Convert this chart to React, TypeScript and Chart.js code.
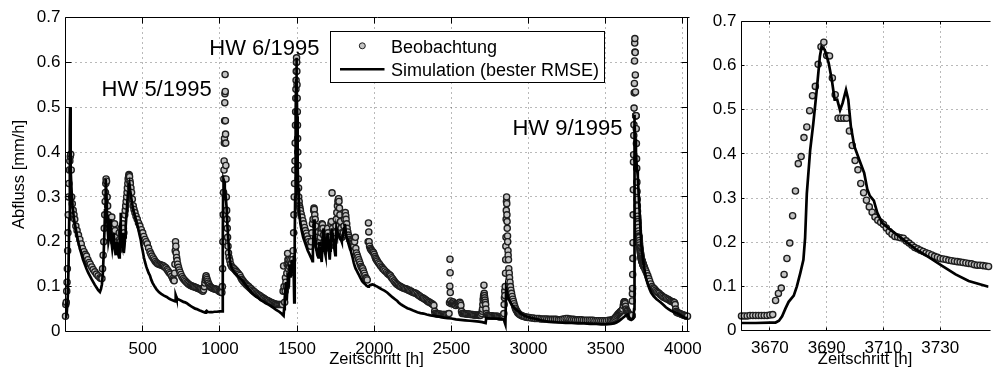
import React, { useEffect, useRef } from "react";
import { Chart, registerables } from "chart.js";
Chart.register(...registerables);

const FONT = "'Liberation Sans', Arial, Helvetica, sans-serif";

// ---------- Tick labels ----------
const mainXTicks = [500, 1000, 1500, 2000, 2500, 3000, 3500, 4000];
const zoomXTicks = [3670, 3690, 3710, 3730];
const yTicks = [0, 0.1, 0.2, 0.3, 0.4, 0.5, 0.6, 0.7];

// ---------- Observations (main panel, outside the zoom window) ----------
const obsHours = [
  0, 2, 5, 8, 10, 12, 14, 16, 18, 20, 22, 25, 28, 31, 34, 37, 40, 44, 50, 55, 60, 67, 75, 84, 93, 102, 110, 120, 128, 136,
  145, 153, 160, 170, 179, 190, 200, 211, 223, 230, 236, 240, 244, 248, 251, 254, 257, 259, 261, 263, 266, 270, 273, 276, 282, 288, 292, 295, 300, 303,
  306, 312, 318, 321, 324, 330, 336, 342, 348, 351, 354, 360, 363, 366, 372, 375, 378, 384, 387, 390, 393, 396, 399, 401, 404, 406, 409, 411, 413, 415,
  418, 420, 424, 428, 433, 439, 444, 450, 457, 465, 473, 482, 491, 500, 507, 515, 522, 530, 538, 547, 553, 560, 568, 575, 582, 590, 597, 605, 612, 620,
  628, 635, 642, 650, 658, 665, 672, 680, 688, 695, 700, 704, 707, 709, 711, 713, 715, 717, 720, 723, 727, 732, 737, 742, 748, 755, 762, 770, 778, 786,
  793, 800, 808, 815, 822, 829, 837, 845, 852, 860, 868, 875, 882, 890, 895, 900, 903, 906, 909, 911, 914, 917, 921, 925, 931, 937, 943, 950, 957, 965,
  972, 980, 987, 995, 1000, 1005, 1010, 1013, 1016, 1018, 1020, 1022, 1024, 1026, 1027, 1028, 1029, 1030, 1031, 1032, 1033, 1034, 1035, 1036, 1037, 1038, 1039, 1040, 1042, 1044,
  1046, 1048, 1050, 1053, 1056, 1060, 1065, 1070, 1077, 1085, 1092, 1100, 1107, 1115, 1122, 1130, 1137, 1143, 1150, 1157, 1165, 1172, 1180, 1187, 1195, 1203, 1210, 1218, 1225, 1233,
  1240, 1248, 1255, 1263, 1270, 1278, 1285, 1293, 1300, 1308, 1315, 1323, 1330, 1338, 1345, 1353, 1360, 1368, 1375, 1383, 1390, 1398, 1405, 1410, 1413, 1416, 1420, 1423, 1425, 1428,
  1431, 1434, 1436, 1439, 1441, 1443, 1446, 1448, 1451, 1455, 1458, 1460, 1464, 1468, 1472, 1475, 1478, 1480, 1482, 1484, 1486, 1487, 1488, 1490, 1491, 1492, 1493, 1494, 1495, 1496,
  1497, 1498, 1499, 1500, 1501, 1502, 1503, 1504, 1505, 1507, 1508, 1510, 1511, 1514, 1516, 1519, 1522, 1527, 1532, 1538, 1543, 1549, 1554, 1560, 1565, 1571, 1576, 1582, 1588, 1592,
  1596, 1600, 1604, 1608, 1610, 1612, 1615, 1618, 1621, 1625, 1628, 1632, 1636, 1640, 1644, 1648, 1651, 1655, 1658, 1662, 1665, 1668, 1671, 1675, 1678, 1682, 1686, 1690, 1694, 1698,
  1701, 1705, 1708, 1712, 1716, 1720, 1723, 1727, 1730, 1733, 1736, 1740, 1744, 1748, 1752, 1755, 1758, 1762, 1765, 1768, 1770, 1772, 1775, 1778, 1782, 1785, 1789, 1792, 1796, 1800,
  1804, 1808, 1811, 1813, 1816, 1818, 1822, 1825, 1829, 1833, 1838, 1842, 1847, 1851, 1856, 1860, 1864, 1868, 1873, 1878, 1881, 1885, 1890, 1895, 1900, 1905, 1910, 1915, 1920, 1925,
  1930, 1935, 1940, 1945, 1950, 1955, 1961, 1963, 1965, 1967, 1970, 1975, 1980, 1985, 1990, 1995, 2000, 2005, 2010, 2015, 2020, 2027, 2035, 2042, 2050, 2056, 2062, 2070, 2080, 2088,
  2095, 2100, 2106, 2113, 2120, 2128, 2135, 2142, 2149, 2157, 2165, 2172, 2180, 2188, 2197, 2205, 2214, 2222, 2230, 2238, 2246, 2254, 2262, 2270, 2279, 2287, 2295, 2303, 2312, 2320,
  2328, 2336, 2344, 2352, 2360, 2368, 2375, 2381, 2387, 2392, 2395, 2403, 2410, 2418, 2425, 2433, 2440, 2448, 2455, 2463, 2470, 2478, 2485, 2488, 2490, 2491, 2492, 2493, 2495, 2500,
  2505, 2510, 2515, 2520, 2525, 2530, 2538, 2545, 2550, 2555, 2559, 2562, 2566, 2570, 2578, 2585, 2593, 2600, 2608, 2615, 2623, 2630, 2638, 2645, 2653, 2660, 2668, 2675, 2683, 2690,
  2696, 2700, 2702, 2704, 2706, 2708, 2709, 2711, 2713, 2714, 2716, 2718, 2720, 2722, 2724, 2727, 2733, 2740, 2748, 2755, 2763, 2770, 2778, 2785, 2793, 2800, 2808, 2815, 2823, 2830,
  2836, 2840, 2842, 2844, 2846, 2847, 2849, 2851, 2852, 2853, 2854, 2855, 2856, 2857, 2858, 2859, 2860, 2861, 2862, 2864, 2865, 2867, 2868, 2870, 2872, 2875, 2877, 2880, 2883, 2886,
  2890, 2894, 2898, 2902, 2906, 2910, 2915, 2920, 2925, 2930, 2935, 2942, 2950, 2958, 2965, 2975, 2985, 2995, 3005, 3018, 3030, 3042, 3055, 3068, 3080, 3093, 3105, 3118, 3130, 3143,
  3155, 3168, 3180, 3193, 3205, 3218, 3230, 3243, 3255, 3268, 3280, 3293, 3305, 3318, 3330, 3343, 3355, 3368, 3380, 3393, 3405, 3418, 3430, 3443, 3455, 3468, 3480, 3493, 3505, 3518,
  3530, 3540, 3550, 3558, 3565, 3572, 3578, 3584, 3590, 3595, 3600, 3605, 3610, 3614, 3618, 3620, 3622, 3624, 3626, 3629, 3632, 3636, 3640, 3644, 3648, 3652, 3656,
  3750, 3755, 3760, 3766, 3773, 3779, 3785, 3792, 3800, 3808, 3815, 3823, 3830, 3838, 3846, 3855, 3862, 3870, 3877, 3885, 3894, 3903, 3911, 3920, 3927, 3935, 3941, 3946, 3950, 3953,
  3956, 3960, 3965, 3972, 3980, 3987, 3995, 4002, 4010, 4017, 4024, 4030,
];
const obsFlow = [
  0.034, 0.06, 0.065, 0.09, 0.11, 0.14, 0.18, 0.22, 0.26, 0.3, 0.33, 0.36, 0.38, 0.39, 0.395, 0.36, 0.3, 0.285, 0.27, 0.26, 0.25, 0.235, 0.225, 0.215, 0.205, 0.195, 0.185, 0.178, 0.172, 0.168,
  0.16, 0.154, 0.15, 0.144, 0.138, 0.133, 0.128, 0.124, 0.12, 0.118, 0.118, 0.14, 0.17, 0.2, 0.23, 0.26, 0.29, 0.31, 0.33, 0.34, 0.335, 0.3, 0.28, 0.26, 0.23, 0.25, 0.235, 0.24, 0.255, 0.235,
  0.22, 0.2, 0.24, 0.225, 0.21, 0.19, 0.2, 0.18, 0.22, 0.205, 0.2, 0.23, 0.22, 0.21, 0.24, 0.23, 0.22, 0.26, 0.27, 0.28, 0.29, 0.3, 0.31, 0.32, 0.33, 0.34, 0.345, 0.35, 0.348, 0.345,
  0.335, 0.33, 0.32, 0.31, 0.295, 0.28, 0.272, 0.265, 0.257, 0.25, 0.242, 0.235, 0.227, 0.22, 0.212, 0.205, 0.2, 0.195, 0.186, 0.178, 0.173, 0.168, 0.164, 0.16, 0.156, 0.153, 0.151, 0.15, 0.149, 0.148,
  0.147, 0.146, 0.144, 0.142, 0.138, 0.135, 0.131, 0.128, 0.123, 0.118, 0.115, 0.113, 0.13, 0.15, 0.18, 0.2, 0.19, 0.175, 0.165, 0.158, 0.15, 0.143, 0.137, 0.132, 0.127, 0.122, 0.118, 0.115, 0.112, 0.109,
  0.107, 0.105, 0.103, 0.102, 0.101, 0.1, 0.099, 0.098, 0.097, 0.096, 0.095, 0.094, 0.092, 0.09, 0.093, 0.1, 0.108, 0.115, 0.12, 0.124, 0.12, 0.116, 0.112, 0.108, 0.104, 0.1, 0.098, 0.097, 0.096, 0.095,
  0.094, 0.094, 0.092, 0.09, 0.089, 0.088, 0.087, 0.087, 0.1, 0.14, 0.2, 0.26, 0.31, 0.34, 0.36, 0.38, 0.42, 0.43, 0.47, 0.51, 0.53, 0.573, 0.535, 0.47, 0.44, 0.42, 0.37, 0.34, 0.3, 0.27,
  0.25, 0.23, 0.21, 0.19, 0.175, 0.165, 0.158, 0.15, 0.145, 0.142, 0.14, 0.137, 0.134, 0.131, 0.128, 0.125, 0.12, 0.116, 0.113, 0.11, 0.107, 0.104, 0.102, 0.1, 0.097, 0.095, 0.092, 0.09, 0.088, 0.086,
  0.084, 0.082, 0.081, 0.079, 0.077, 0.075, 0.074, 0.072, 0.07, 0.069, 0.068, 0.066, 0.065, 0.064, 0.063, 0.062, 0.061, 0.06, 0.06, 0.06, 0.06, 0.06, 0.06, 0.09, 0.146, 0.1, 0.065, 0.09, 0.12, 0.11,
  0.1, 0.13, 0.15, 0.174, 0.16, 0.14, 0.15, 0.16, 0.145, 0.13, 0.15, 0.16, 0.15, 0.14, 0.16, 0.18, 0.22, 0.26, 0.3, 0.33, 0.36, 0.38, 0.42, 0.46, 0.49, 0.52, 0.54, 0.56, 0.58, 0.6,
  0.61, 0.6, 0.58, 0.55, 0.52, 0.49, 0.46, 0.43, 0.4, 0.37, 0.34, 0.32, 0.3, 0.29, 0.28, 0.275, 0.27, 0.262, 0.255, 0.247, 0.24, 0.232, 0.225, 0.219, 0.213, 0.206, 0.2, 0.195, 0.19, 0.2,
  0.22, 0.24, 0.25, 0.27, 0.275, 0.272, 0.26, 0.25, 0.235, 0.22, 0.21, 0.2, 0.19, 0.185, 0.19, 0.2, 0.21, 0.22, 0.23, 0.24, 0.238, 0.23, 0.215, 0.2, 0.19, 0.185, 0.195, 0.21, 0.22, 0.23,
  0.22, 0.21, 0.2, 0.19, 0.21, 0.24, 0.245, 0.309, 0.23, 0.22, 0.21, 0.2, 0.21, 0.22, 0.235, 0.25, 0.265, 0.28, 0.29, 0.295, 0.296, 0.29, 0.275, 0.26, 0.245, 0.23, 0.22, 0.21, 0.215, 0.22,
  0.235, 0.25, 0.26, 0.265, 0.258, 0.25, 0.24, 0.23, 0.222, 0.215, 0.21, 0.205, 0.202, 0.2, 0.197, 0.195, 0.192, 0.19, 0.2, 0.21, 0.185, 0.175, 0.17, 0.165, 0.16, 0.155, 0.15, 0.145, 0.142, 0.14,
  0.135, 0.13, 0.125, 0.12, 0.118, 0.115, 0.2, 0.242, 0.222, 0.2, 0.19, 0.185, 0.182, 0.18, 0.178, 0.176, 0.172, 0.167, 0.163, 0.16, 0.157, 0.153, 0.15, 0.146, 0.143, 0.14, 0.138, 0.135, 0.132, 0.129,
  0.127, 0.126, 0.124, 0.12, 0.117, 0.113, 0.11, 0.107, 0.105, 0.103, 0.101, 0.1, 0.098, 0.097, 0.096, 0.095, 0.094, 0.092, 0.091, 0.09, 0.088, 0.087, 0.086, 0.085, 0.083, 0.081, 0.079, 0.077, 0.075, 0.074,
  0.072, 0.07, 0.068, 0.066, 0.065, 0.063, 0.062, 0.06, 0.058, 0.045, 0.04, 0.04, 0.039, 0.039, 0.039, 0.038, 0.038, 0.038, 0.038, 0.038, 0.038, 0.039, 0.04, 0.064, 0.101, 0.161, 0.131, 0.087, 0.068, 0.062,
  0.064, 0.066, 0.063, 0.06, 0.059, 0.058, 0.06, 0.062, 0.064, 0.065, 0.062, 0.058, 0.045, 0.04, 0.04, 0.04, 0.039, 0.039, 0.039, 0.039, 0.038, 0.038, 0.038, 0.037, 0.037, 0.037, 0.037, 0.036, 0.036, 0.036,
  0.04, 0.045, 0.05, 0.06, 0.07, 0.075, 0.08, 0.103, 0.085, 0.08, 0.075, 0.07, 0.065, 0.06, 0.05, 0.04, 0.036, 0.035, 0.035, 0.035, 0.035, 0.034, 0.034, 0.034, 0.034, 0.034, 0.033, 0.033, 0.033, 0.033,
  0.036, 0.04, 0.06, 0.075, 0.09, 0.08, 0.1, 0.13, 0.16, 0.19, 0.21, 0.25, 0.27, 0.29, 0.3, 0.285, 0.26, 0.245, 0.23, 0.213, 0.2, 0.18, 0.17, 0.16, 0.14, 0.13, 0.12, 0.11, 0.1, 0.092,
  0.085, 0.078, 0.072, 0.067, 0.062, 0.057, 0.052, 0.048, 0.045, 0.042, 0.04, 0.038, 0.036, 0.035, 0.034, 0.033, 0.032, 0.031, 0.031, 0.03, 0.03, 0.029, 0.029, 0.029, 0.028, 0.028, 0.028, 0.028, 0.027, 0.027,
  0.027, 0.027, 0.027, 0.026, 0.026, 0.027, 0.028, 0.029, 0.029, 0.028, 0.027, 0.027, 0.026, 0.026, 0.026, 0.026, 0.025, 0.025, 0.025, 0.025, 0.025, 0.025, 0.024, 0.024, 0.024, 0.024, 0.024, 0.024, 0.024, 0.025,
  0.025, 0.026, 0.027, 0.029, 0.032, 0.035, 0.038, 0.04, 0.042, 0.044, 0.045, 0.047, 0.05, 0.058, 0.064, 0.066, 0.066, 0.064, 0.062, 0.056, 0.05, 0.047, 0.045, 0.042, 0.04, 0.038, 0.036,
  0.143, 0.139, 0.135, 0.13, 0.124, 0.118, 0.112, 0.106, 0.1, 0.097, 0.095, 0.092, 0.089, 0.087, 0.085, 0.082, 0.08, 0.078, 0.076, 0.075, 0.073, 0.072, 0.07, 0.068, 0.067, 0.066, 0.065, 0.064, 0.06, 0.05,
  0.045, 0.043, 0.042, 0.041, 0.04, 0.039, 0.038, 0.037, 0.036, 0.035, 0.034, 0.034,
];

// ---------- Observations, hourly, in the zoom window (first hour 3660) ----------
const zoomStartHour = 3660;
const zoomObsFlow = [
  0.033, 0.033, 0.033, 0.034, 0.034, 0.034, 0.034, 0.034, 0.034, 0.034, 0.035, 0.036,
  0.068, 0.084, 0.096, 0.127, 0.163, 0.198, 0.26, 0.316, 0.378, 0.394,
  0.437, 0.461, 0.498, 0.532, 0.553, 0.603, 0.643, 0.653, 0.623, 0.622,
  0.572, 0.534, 0.481, 0.481, 0.481, 0.481, 0.452, 0.419, 0.385, 0.364,
  0.333, 0.312, 0.295, 0.28, 0.268, 0.257, 0.25, 0.245, 0.24, 0.232,
  0.224, 0.218, 0.213, 0.212, 0.21, 0.209, 0.203, 0.198, 0.193, 0.188,
  0.185, 0.182, 0.179, 0.176, 0.174, 0.171, 0.168, 0.166, 0.163, 0.162,
  0.161, 0.159, 0.158, 0.157, 0.156, 0.155, 0.154, 0.153, 0.152, 0.151,
  0.149, 0.148, 0.148, 0.147, 0.146, 0.145,
];

// ---------- Simulation (main panel) ----------
const simHours = [
  0, 8, 15, 20, 24, 27, 29, 30, 32, 35, 40, 46, 55, 63, 71, 82, 93, 104, 114, 125, 136, 147, 158, 170, 180, 190, 201, 212, 223, 230,
  236, 242, 247, 252, 256, 259, 262, 265, 269, 273, 278, 283, 287, 291, 294, 298, 303, 308, 312, 316, 320, 325, 329, 333, 338, 343, 347, 350, 353, 355,
  357, 359, 362, 366, 370, 373, 376, 379, 382, 386, 390, 395, 400, 405, 410, 414, 419, 425, 432, 440, 448, 456, 464, 472, 480, 487, 494, 500, 508, 515,
  523, 530, 539, 547, 556, 565, 578, 590, 605, 620, 638, 656, 673, 690, 705, 712, 714, 717, 720, 730, 742, 753, 764, 775, 786, 798, 810, 820, 830, 840,
  851, 863, 875, 890, 905, 910, 914, 920, 935, 950, 965, 980, 1000, 1017, 1019, 1021, 1024, 1028, 1032, 1038, 1045, 1050, 1056, 1062, 1067, 1073, 1080, 1090, 1099, 1110,
  1120, 1132, 1143, 1155, 1165, 1176, 1186, 1198, 1210, 1220, 1230, 1240, 1251, 1265, 1280, 1298, 1316, 1333, 1350, 1365, 1381, 1392, 1400, 1407, 1413, 1416, 1419, 1422, 1426, 1429,
  1432, 1435, 1438, 1440, 1444, 1447, 1450, 1452, 1455, 1458, 1462, 1465, 1469, 1472, 1475, 1478, 1480, 1482, 1484, 1486, 1488, 1490, 1492, 1494, 1496, 1497, 1499, 1501, 1503, 1505,
  1508, 1512, 1516, 1522, 1530, 1540, 1550, 1560, 1570, 1580, 1590, 1597, 1600, 1603, 1606, 1609, 1611, 1614, 1618, 1622, 1627, 1632, 1638, 1642, 1645, 1648, 1652, 1656, 1660, 1663,
  1666, 1669, 1672, 1675, 1678, 1682, 1685, 1689, 1692, 1695, 1698, 1701, 1705, 1709, 1712, 1715, 1718, 1722, 1725, 1729, 1732, 1736, 1740, 1744, 1748, 1751, 1755, 1758, 1762, 1766,
  1770, 1775, 1780, 1785, 1790, 1795, 1800, 1805, 1810, 1814, 1818, 1824, 1830, 1838, 1845, 1852, 1860, 1868, 1874, 1880, 1888, 1895, 1903, 1910, 1916, 1922, 1930, 1940, 1948, 1955,
  1960, 1965, 1972, 1980, 1988, 1997, 2008, 2020, 2035, 2050, 2066, 2084, 2100, 2120, 2135, 2150, 2160, 2171, 2185, 2200, 2215, 2230, 2245, 2257, 2280, 2300, 2320, 2340, 2365, 2387,
  2420, 2450, 2475, 2500, 2530, 2560, 2590, 2620, 2650, 2680, 2700, 2722, 2726, 2750, 2780, 2810, 2840, 2846, 2850, 2853, 2855, 2860, 2866, 2875, 2885, 2895, 2905, 2915, 2925, 2935,
  2948, 2960, 2975, 2990, 3010, 3036, 3060, 3080, 3105, 3130, 3165, 3200, 3240, 3280, 3320, 3360, 3400, 3440, 3470, 3500, 3534, 3555, 3570, 3585, 3599, 3610, 3620, 3632, 3643, 3650,
  3656, 3665, 3675, 3680, 3684, 3685, 3686, 3687, 3689, 3692, 3696, 3700, 3704, 3708, 3713, 3719, 3725, 3730, 3740, 3751, 3762, 3773, 3784, 3794, 3810, 3830, 3845, 3859, 3875, 3890,
  3907, 3924, 3945, 3967, 3990, 4010, 4030,
];
const simFlow = [
  0.03, 0.04, 0.08, 0.15, 0.25, 0.35, 0.45, 0.5, 0.42, 0.36, 0.31, 0.28, 0.25, 0.235, 0.22, 0.2, 0.185, 0.172, 0.16, 0.15, 0.14, 0.131, 0.124, 0.116, 0.11, 0.104, 0.098, 0.092, 0.088, 0.095,
  0.105, 0.13, 0.17, 0.22, 0.27, 0.31, 0.34, 0.31, 0.26, 0.23, 0.2, 0.21, 0.23, 0.25, 0.22, 0.2, 0.185, 0.2, 0.22, 0.2, 0.185, 0.17, 0.19, 0.2, 0.185, 0.17, 0.165, 0.18, 0.2, 0.24,
  0.265, 0.22, 0.195, 0.19, 0.21, 0.22, 0.19, 0.175, 0.19, 0.21, 0.235, 0.26, 0.285, 0.31, 0.325, 0.33, 0.315, 0.3, 0.285, 0.27, 0.26, 0.25, 0.24, 0.228, 0.215, 0.205, 0.19, 0.18, 0.165, 0.155,
  0.145, 0.138, 0.13, 0.125, 0.115, 0.108, 0.1, 0.094, 0.088, 0.084, 0.08, 0.077, 0.073, 0.07, 0.068, 0.067, 0.081, 0.078, 0.074, 0.072, 0.07, 0.068, 0.066, 0.065, 0.063, 0.06, 0.057, 0.055, 0.053, 0.051,
  0.05, 0.048, 0.046, 0.044, 0.042, 0.045, 0.046, 0.044, 0.043, 0.043, 0.044, 0.044, 0.045, 0.045, 0.2, 0.3, 0.339, 0.335, 0.32, 0.3, 0.272, 0.23, 0.198, 0.17, 0.155, 0.145, 0.14, 0.134, 0.13, 0.126,
  0.122, 0.118, 0.115, 0.11, 0.105, 0.1, 0.095, 0.09, 0.085, 0.082, 0.079, 0.077, 0.074, 0.07, 0.067, 0.063, 0.06, 0.056, 0.052, 0.048, 0.045, 0.042, 0.04, 0.037, 0.035, 0.05, 0.065, 0.075, 0.1, 0.11,
  0.08, 0.07, 0.1, 0.13, 0.115, 0.1, 0.13, 0.15, 0.135, 0.12, 0.14, 0.16, 0.15, 0.14, 0.16, 0.17, 0.12, 0.065, 0.1, 0.2, 0.3, 0.4, 0.48, 0.56, 0.6, 0.61, 0.56, 0.48, 0.42, 0.37,
  0.32, 0.28, 0.26, 0.24, 0.225, 0.21, 0.2, 0.19, 0.18, 0.173, 0.165, 0.16, 0.157, 0.18, 0.21, 0.24, 0.25, 0.23, 0.205, 0.19, 0.18, 0.17, 0.165, 0.18, 0.2, 0.19, 0.175, 0.165, 0.155, 0.18,
  0.21, 0.225, 0.23, 0.21, 0.19, 0.175, 0.17, 0.19, 0.2, 0.21, 0.22, 0.205, 0.185, 0.17, 0.16, 0.18, 0.2, 0.22, 0.23, 0.22, 0.21, 0.2, 0.19, 0.18, 0.17, 0.2, 0.23, 0.225, 0.22, 0.218,
  0.215, 0.212, 0.21, 0.205, 0.2, 0.21, 0.22, 0.23, 0.24, 0.23, 0.215, 0.207, 0.2, 0.192, 0.185, 0.175, 0.165, 0.153, 0.146, 0.14, 0.135, 0.13, 0.125, 0.12, 0.116, 0.112, 0.109, 0.106, 0.103, 0.101,
  0.1, 0.101, 0.103, 0.104, 0.105, 0.104, 0.102, 0.1, 0.097, 0.094, 0.091, 0.087, 0.082, 0.076, 0.072, 0.068, 0.064, 0.061, 0.058, 0.055, 0.052, 0.05, 0.048, 0.046, 0.043, 0.041, 0.04, 0.038, 0.036, 0.035,
  0.033, 0.031, 0.03, 0.029, 0.027, 0.026, 0.025, 0.024, 0.023, 0.022, 0.021, 0.019, 0.03, 0.029, 0.029, 0.028, 0.027, 0.02, 0.016, 0.016, 0.094, 0.085, 0.078, 0.07, 0.063, 0.058, 0.054, 0.05, 0.047, 0.045,
  0.041, 0.038, 0.035, 0.033, 0.031, 0.029, 0.027, 0.025, 0.023, 0.022, 0.021, 0.02, 0.019, 0.019, 0.018, 0.018, 0.017, 0.017, 0.016, 0.016, 0.017, 0.018, 0.02, 0.023, 0.027, 0.03, 0.033, 0.036, 0.038, 0.033,
  0.028, 0.026, 0.028, 0.032, 0.05, 0.2, 0.4, 0.483, 0.46, 0.43, 0.4, 0.375, 0.36, 0.346, 0.31, 0.272, 0.23, 0.198, 0.165, 0.138, 0.118, 0.105, 0.095, 0.087, 0.079, 0.072, 0.068, 0.064, 0.059, 0.054,
  0.05, 0.046, 0.043, 0.04, 0.035, 0.031, 0.03,
];

// ---------- Simulation (zoom panel) ----------
const simZoomHours = [
  3660, 3665, 3670, 3672, 3673.2, 3674.3, 3675.5, 3676.6, 3678.4, 3679.5, 3680.7, 3681.8, 3682.4, 3683, 3684.2,
  3685.3, 3686.5, 3687.6, 3688.2, 3689.3, 3690.7, 3691.8, 3692.8, 3693.7, 3694.7, 3695.6, 3696.8, 3697.6, 3698.5, 3699.7,
  3701.4, 3703.2, 3704.3, 3705.2, 3706.6, 3707.8, 3709.5, 3712.3, 3717, 3721.6, 3726.2, 3730.8, 3735.4, 3740, 3747,
];
const simZoomFlow = [
  0.017, 0.017, 0.018, 0.018, 0.022, 0.032, 0.05, 0.065, 0.079, 0.1, 0.13, 0.16, 0.21, 0.31, 0.41,
  0.47, 0.545, 0.621, 0.643, 0.636, 0.606, 0.568, 0.523, 0.523, 0.499, 0.515, 0.545, 0.523, 0.463, 0.418,
  0.388, 0.357, 0.32, 0.305, 0.294, 0.267, 0.244, 0.229, 0.206, 0.183, 0.165, 0.146, 0.127, 0.112, 0.099,
];

const LEGEND_OBS = "Beobachtung";
const LEGEND_SIM = "Simulation (bester RMSE)";
const X_TITLE = "Zeitschritt [h]";
const Y_TITLE = "Abfluss [mm/h]";
const eventLabels = [
  { text: "HW 5/1995", hour: 234, flow: 0.524 },
  { text: "HW 6/1995", hour: 932, flow: 0.617 },
  { text: "HW 9/1995", hour: 2896, flow: 0.437 },
];

// ---------- helpers ----------
const toPoints = (xs: number[], ys: number[]) => xs.map((x, i) => ({ x, y: ys[i] }));
const zoomObsPoints = () => zoomObsFlow.map((y, i) => ({ x: zoomStartHour + i, y }));

const OBS_FILL = "#c3c3c3";
const OBS_EDGE = "#1e1e1e";

function makeFrame(tickLen: number, drawRight: boolean) {
  return {
    id: "matlabFrame",
    beforeDatasetsDraw(chart: any) {
      const { ctx, chartArea: a } = chart;
      const xs = chart.scales.x;
      const ys = chart.scales.y;
      ctx.save();
      ctx.strokeStyle = "rgba(0,0,0,0.55)";
      ctx.lineWidth = 1;
      ctx.setLineDash([1, 4]);
      xs.ticks.forEach((t: any) => {
        const p = Math.floor(xs.getPixelForValue(t.value)) + 0.5;
        if (p > a.left + 1 && p < a.right - 1) {
          ctx.beginPath();
          ctx.moveTo(p, a.top);
          ctx.lineTo(p, a.bottom);
          ctx.stroke();
        }
      });
      ys.ticks.forEach((t: any) => {
        const p = Math.floor(ys.getPixelForValue(t.value)) + 0.5;
        if (p > a.top + 1 && p < a.bottom - 1) {
          ctx.beginPath();
          ctx.moveTo(a.left, p);
          ctx.lineTo(a.right, p);
          ctx.stroke();
        }
      });
      ctx.restore();
    },
    afterDatasetsDraw(chart: any) {
      const { ctx, chartArea: a } = chart;
      const xs = chart.scales.x;
      const ys = chart.scales.y;
      ctx.save();
      ctx.strokeStyle = "#000";
      ctx.lineWidth = 1;
      ctx.setLineDash([]);
      ctx.beginPath();
      const L = Math.floor(a.left) + 0.5;
      const T = Math.floor(a.top) + 0.5;
      const B = Math.floor(a.bottom) + 0.5;
      const R = Math.floor(a.right) + 0.5;
      ctx.moveTo(L, B);
      ctx.lineTo(L, T);
      ctx.lineTo(a.right + 2, T);
      ctx.moveTo(L, B);
      ctx.lineTo(a.right + 2, B);
      if (drawRight) {
        ctx.moveTo(R, T);
        ctx.lineTo(R, B);
      }
      xs.ticks.forEach((t: any) => {
        const p = Math.floor(xs.getPixelForValue(t.value)) + 0.5;
        ctx.moveTo(p, B);
        ctx.lineTo(p, B - tickLen);
        ctx.moveTo(p, T);
        ctx.lineTo(p, T + tickLen);
      });
      ys.ticks.forEach((t: any) => {
        const p = Math.floor(ys.getPixelForValue(t.value)) + 0.5;
        ctx.moveTo(L, p);
        ctx.lineTo(L + tickLen, p);
        if (drawRight) {
          ctx.moveTo(R, p);
          ctx.lineTo(R - tickLen, p);
        }
      });
      ctx.stroke();
      ctx.restore();
    },
  };
}

const labelsPlugin = {
  id: "eventLabels",
  afterDraw(chart: any) {
    const { ctx } = chart;
    const xs = chart.scales.x;
    const ys = chart.scales.y;
    ctx.save();
    ctx.fillStyle = "#000";
    ctx.font = `22px ${FONT}`;
    ctx.textAlign = "left";
    ctx.textBaseline = "alphabetic";
    eventLabels.forEach((l) => {
      ctx.fillText(l.text, xs.getPixelForValue(l.hour), ys.getPixelForValue(l.flow));
    });
    ctx.restore();
  },
};

const legendPlugin = {
  id: "matlabLegend",
  afterDraw(chart: any) {
    const { ctx } = chart;
    ctx.save();
    ctx.fillStyle = "#fff";
    ctx.fillRect(330.5, 31.5, 274, 51);
    ctx.strokeStyle = "#000";
    ctx.lineWidth = 1;
    ctx.strokeRect(330.5, 31.5, 274, 51);
    // marker
    ctx.beginPath();
    ctx.arc(362.3, 45.8, 3, 0, Math.PI * 2);
    ctx.fillStyle = OBS_FILL;
    ctx.fill();
    ctx.strokeStyle = OBS_EDGE;
    ctx.lineWidth = 1;
    ctx.stroke();
    // line
    ctx.beginPath();
    ctx.moveTo(340, 69.3);
    ctx.lineTo(384.5, 69.3);
    ctx.strokeStyle = "#000";
    ctx.lineWidth = 2.6;
    ctx.stroke();
    ctx.fillStyle = "#000";
    ctx.font = `18px ${FONT}`;
    ctx.textBaseline = "alphabetic";
    ctx.fillText(LEGEND_OBS, 391, 53);
    ctx.fillText(LEGEND_SIM, 391, 75.5);
    ctx.restore();
  },
};

function axisCommon() {
  return {
    grid: { display: false, drawTicks: false },
    border: { display: false },
  };
}

function buildConfig(opts: {
  obs: { x: number; y: number }[];
  sim: { x: number; y: number }[];
  xMin: number;
  xMax: number;
  xTicks: number[];
  yAxisWidth: number;
  xAxisHeight: number;
  padTop: number;
  padRight: number;
  yTitle: boolean;
  tickLen: number;
  drawRight: boolean;
  extraPlugins: any[];
}) {
  return {
    type: "scatter" as const,
    data: {
      datasets: [
        {
          label: LEGEND_SIM,
          data: opts.sim,
          showLine: true,
          borderColor: "#000",
          backgroundColor: "#000",
          borderWidth: 2.7,
          pointRadius: 0,
          pointHoverRadius: 0,
          tension: 0,
          order: 0,
        },
        {
          label: LEGEND_OBS,
          data: opts.obs,
          showLine: false,
          pointRadius: 3.1,
          pointHoverRadius: 3.1,
          pointBackgroundColor: OBS_FILL,
          pointBorderColor: OBS_EDGE,
          pointBorderWidth: 1.35,
          clip: false,
          order: 1,
        },
      ],
    },
    options: {
      animation: false,
      responsive: false,
      devicePixelRatio: 1,
      events: [],
      layout: { padding: { left: 0, top: opts.padTop, right: opts.padRight, bottom: 0 } },
      plugins: { legend: { display: false }, tooltip: { enabled: false }, title: { display: false } },
      scales: {
        x: {
          type: "linear",
          min: opts.xMin,
          max: opts.xMax,
          ...axisCommon(),
          afterBuildTicks: (s: any) => {
            s.ticks = opts.xTicks.map((v) => ({ value: v }));
          },
          afterFit: (s: any) => {
            s.height = opts.xAxisHeight;
            s.paddingLeft = 0;
            s.paddingRight = 0;
          },
          ticks: {
            color: "#000",
            font: { size: 17, family: FONT },
            padding: 7.5,
            maxRotation: 0,
            autoSkip: false,
            callback: (v: any) => String(v),
          },
          title: {
            display: true,
            text: X_TITLE,
            color: "#000",
            font: { size: 16.5, family: FONT },
            padding: { top: 0, bottom: 6.5 },
          },
        },
        y: {
          type: "linear",
          min: 0,
          max: 0.7,
          ...axisCommon(),
          afterBuildTicks: (s: any) => {
            s.ticks = yTicks.map((v) => ({ value: v }));
          },
          afterFit: (s: any) => {
            s.width = opts.yAxisWidth;
            s.paddingTop = 0;
            s.paddingBottom = 0;
          },
          ticks: {
            color: "#000",
            font: { size: 17, family: FONT },
            padding: 5,
            autoSkip: false,
            callback: (v: any) => (Number(v) === 0 ? "0" : Number(v).toFixed(1)),
          },
          title: {
            display: opts.yTitle,
            text: Y_TITLE,
            color: "#000",
            font: { size: 16.5, family: FONT },
            padding: { top: 10, bottom: 0 },
          },
        },
      },
    },
    plugins: [makeFrame(opts.tickLen, opts.drawRight), ...opts.extraPlugins],
  };
}

export default function App() {
  const leftRef = useRef<HTMLCanvasElement>(null);
  const rightRef = useRef<HTMLCanvasElement>(null);

  useEffect(() => {
    Chart.defaults.font.family = FONT;
    Chart.defaults.color = "#000";
    const mainObs = toPoints(obsHours, obsFlow).concat(zoomObsPoints()).sort((a, b) => a.x - b.x);
    const left = new Chart(
      leftRef.current as HTMLCanvasElement,
      buildConfig({
        obs: mainObs,
        sim: toPoints(simHours, simFlow),
        xMin: 0,
        xMax: 4030,
        xTicks: mainXTicks,
        yAxisWidth: 65.5,
        xAxisHeight: 44.5,
        padTop: 17.5,
        padRight: 17.5,
        yTitle: true,
        tickLen: 6,
        drawRight: true,
        extraPlugins: [labelsPlugin, legendPlugin],
      }) as any
    );
    const right = new Chart(
      rightRef.current as HTMLCanvasElement,
      buildConfig({
        obs: zoomObsPoints(),
        sim: toPoints(simZoomHours, simZoomFlow),
        xMin: 3660,
        xMax: 3747,
        xTicks: zoomXTicks,
        yAxisWidth: 36.5,
        xAxisHeight: 45.5,
        padTop: 21.5,
        padRight: 0,
        yTitle: false,
        tickLen: 3,
        drawRight: false,
        extraPlugins: [],
      }) as any
    );
    return () => {
      left.destroy();
      right.destroy();
    };
  }, []);

  return (
    <div
      style={{
        position: "absolute",
        left: 0,
        top: 0,
        width: 993,
        height: 376,
        background: "#fff",
        overflow: "hidden",
      }}
    >
      <canvas
        ref={leftRef}
        width={705}
        height={376}
        style={{ position: "absolute", left: 0, top: 0, width: 705, height: 376 }}
      />
      <canvas
        ref={rightRef}
        width={288}
        height={376}
        style={{ position: "absolute", left: 705, top: 0, width: 288, height: 376 }}
      />
    </div>
  );
}
